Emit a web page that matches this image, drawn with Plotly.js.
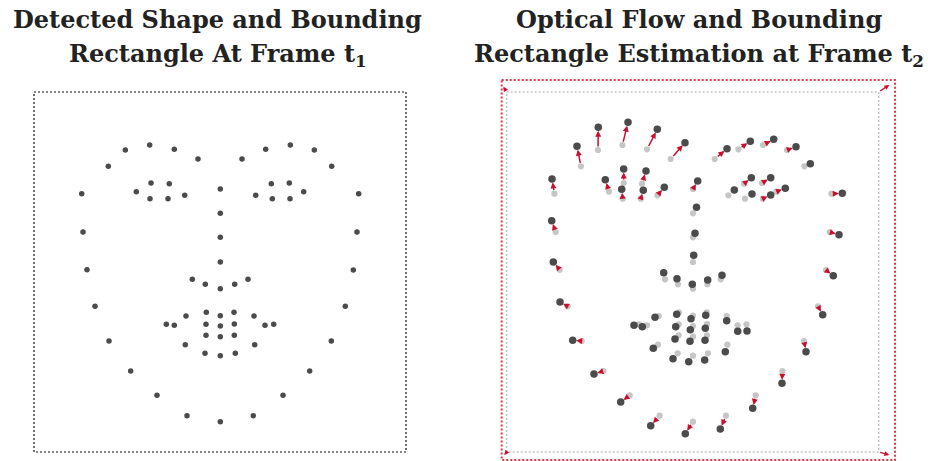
<!DOCTYPE html>
<html>
<head>
<meta charset="utf-8">
<script src="https://cdn.plot.ly/plotly-3.0.1.min.js"></script>
<style>html,body{margin:0;padding:0;background:#fff;}#chart{width:928px;height:461px;}</style>
</head>
<body>
<div id="chart"></div>
<script>
// Landmark positions at frame t1 (bounding-rectangle coordinates, y downward)
const t1X = [47.7,49,53,61,75,96.7,123,153,186.3,219.3,249,275.7,297.3,311.3,319.3,323,324.7,
  74.3,91.3,115.7,140.3,164,208,231.7,256.3,280.3,297.7,
  186.3,186.3,186.3,186.3,158.3,171.3,186.3,200.7,214,
  102.3,117,135.3,150.7,134,116,221.7,237.3,255.3,269.7,256,238.3,
  132.3,152,172.3,186.3,200,220,239.7,220.7,201.3,186.3,171,151.3,
  140.3,172,186.3,200.3,231,200.3,186.3,172];
const t1Y = [101.7,140,177.7,214.3,249,279,303.3,323.7,329.7,323.7,303.3,279,249,214.3,178,140,101.7,
  74.3,58,53,57.3,67,67,57.3,53,58,74.3,
  97,121.3,145.3,170,187.3,192.3,196.7,192.3,187.3,
  99.7,91,91.7,103.3,106.7,106.7,103.3,91.7,91,99.7,106.7,106.7,
  232.3,224,220.3,223.7,220.3,224,232.3,252.7,261.3,263.7,261.3,252.7,
  233.3,232.3,234,232,233.3,243.3,244.7,243.3];
// Landmark positions at frame t2 (optical flow result)
const t2X = [45.3,45,46.6,53.3,66,87.3,114,144,178.6,213.6,246,275.3,299.3,316,326.6,332.3,335.6,
  70.3,91.6,121.3,150.6,178.3,220.3,243.6,267,289.3,303.6,
  191,189.8,188.3,187,157,170.3,185.6,201,215.3,
  98.6,117,139.3,157.6,136.6,115,227.6,244.6,264,278.6,264,245.3,
  127.3,148.3,170,184.3,199,220,240.3,218.6,198,182,166.3,146.6,
  135.6,169,183.6,198.6,231,198.3,183.3,168.3];
const t2Y = [87,128.7,170,210,248.3,282,310,333.7,341.7,337,316.3,291.3,259.7,222.7,183.7,142.7,101.3,
  54.3,35.3,30.3,37.3,50.7,56.7,49.3,47.3,54.7,71.7,
  89,115.3,141.3,163.3,180.7,186.7,192.3,188,183.3,
  87.7,77,79,95.3,98.3,97.3,98,85.7,85.7,96.3,103,102,
  233.3,225.3,222.3,226.7,223.3,228.7,239,259.7,268,269.7,266.7,256.3,
  234.7,234.7,237.7,236.3,239.3,248.3,249.3,247];
// Bounding rectangles
const boxT1 = [0, 0, 372, 360];            // x0, y0, x1, y1
const boxT2 = [-5, -12, 388.3, 368];
const cornerStartX = [0, 372, 372, 0];
const cornerStartY = [0, 0, 360, 360];
const cornerEndX = [-3.4, 382.6, 382.6, -2.4];
const cornerEndY = [-5.3, -7, 363, 363];
const titleLeft = ["Detected Shape and Bounding", "Rectangle At Frame t<sub>1</sub>"];
const titleRight = ["Optical Flow and Bounding", "Rectangle Estimation at Frame t<sub>2</sub>"];

const dark = '#4b4b4b', light = '#c6c6c6', red = '#c8102e', redBox = '#d6394a';

const traces = [
  {type:'scatter', mode:'markers', x:t1X, y:t1Y, xaxis:'x', yaxis:'y',
   marker:{size:5.5, color:dark}, hoverinfo:'skip'},
  {type:'scatter', mode:'markers', x:t1X, y:t1Y, xaxis:'x2', yaxis:'y',
   marker:{size:6.2, color:light}, hoverinfo:'skip'},
  {type:'scatter', mode:'markers', x:t2X, y:t2Y, xaxis:'x2', yaxis:'y',
   marker:{size:7.5, color:dark}, hoverinfo:'skip'}
];

const annotations = [];
for (let i = 0; i < t1X.length; i++) {
  annotations.push({xref:'x2', yref:'y', axref:'x2', ayref:'y',
    x:t2X[i], y:t2Y[i], ax:t1X[i], ay:t1Y[i], text:'', showarrow:true,
    arrowhead:2, arrowsize:0.8, arrowwidth:1.5, arrowcolor:red, standoff:3.5, startstandoff:2});
}
for (let i = 0; i < 4; i++) {
  annotations.push({xref:'x2', yref:'y', axref:'x2', ayref:'y',
    x:cornerEndX[i], y:cornerEndY[i], ax:cornerStartX[i], ay:cornerStartY[i], text:'', showarrow:true,
    arrowhead:2, arrowsize:0.7, arrowwidth:1.4, arrowcolor:red, standoff:0, startstandoff:0});
}
const tfont = {family:'DejaVu Serif', size:24, color:'#222'};
[[titleLeft,'x',183.5],[titleRight,'x2',192.3]].forEach(([lines,xr,cx]) => {
  lines.forEach((ln, k) => {
    annotations.push({xref:xr, yref:'y', x:cx, y:(k===0 ? -73 : -37), text:'<b>'+ln+'</b>',
      showarrow:false, xanchor:'center', yanchor:'middle', font:tfont});
  });
});

const shapes = [
  {type:'rect', xref:'x', yref:'y', x0:boxT1[0], y0:boxT1[1], x1:boxT1[2], y1:boxT1[3],
   line:{color:'#111', width:1.2, dash:'2px,2px'}},
  {type:'rect', xref:'x2', yref:'y', x0:boxT1[0], y0:boxT1[1], x1:boxT1[2], y1:boxT1[3],
   line:{color:'#c4c4c4', width:1.5, dash:'2px,2px'}},
  {type:'rect', xref:'x2', yref:'y', x0:boxT2[0], y0:boxT2[1], x1:boxT2[2], y1:boxT2[3],
   line:{color:redBox, width:2, dash:'2px,2px'}}
];

const ax = {visible:false, showgrid:false, zeroline:false, fixedrange:true};
const layout = {
  width:928, height:461, margin:{l:0,r:0,t:0,b:0},
  paper_bgcolor:'#fff', plot_bgcolor:'#fff', showlegend:false,
  xaxis:Object.assign({domain:[0,0.5], range:[-34,430]}, ax),
  xaxis2:Object.assign({domain:[0.5,1], range:[-42.7,421.3]}, ax),
  yaxis:Object.assign({domain:[0,1], range:[369,-92]}, ax),
  shapes:shapes, annotations:annotations
};
Plotly.newPlot('chart', traces, layout, {displayModeBar:false, staticPlot:true});
</script>
</body>
</html>
